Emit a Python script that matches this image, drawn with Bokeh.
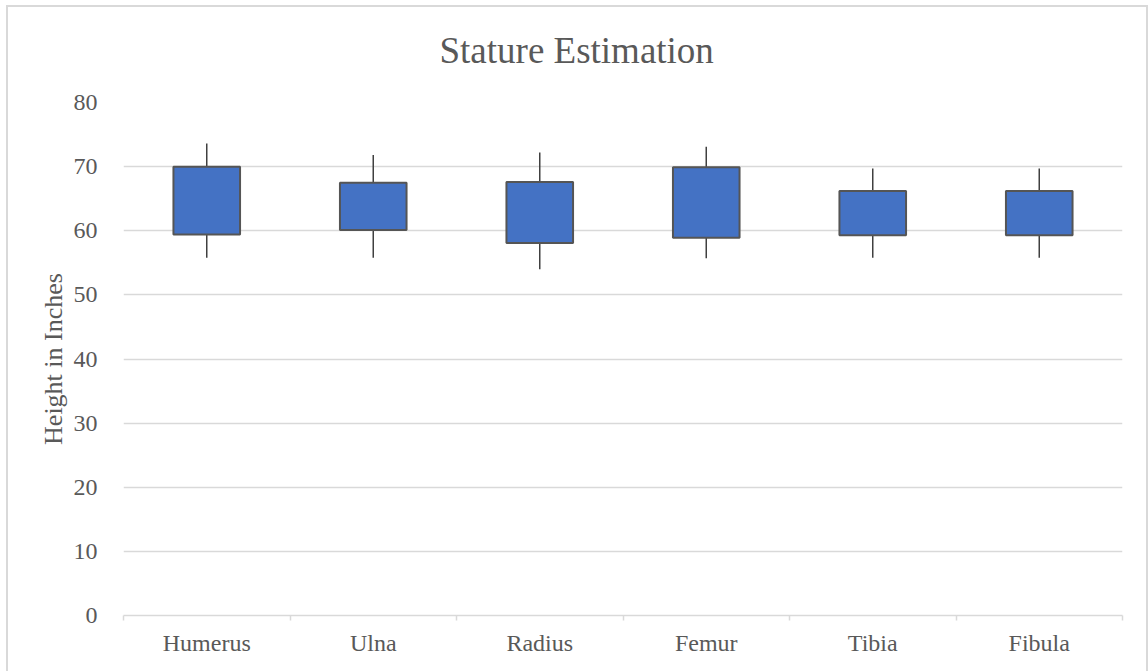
import numpy as np
from bokeh.plotting import figure
from bokeh.layouts import column
from bokeh.models import Range1d, FixedTicker, ColumnDataSource
from bokeh.embed import file_html
from bokeh.resources import INLINE

# ---- data ----
categories = ["Humerus", "Ulna", "Radius", "Femur", "Tibia", "Fibula"]
high = [73.6, 71.8, 72.2, 73.1, 69.7, 69.7]
low = [55.8, 55.8, 54.0, 55.7, 55.8, 55.8]
box_top = [70.0, 67.5, 67.6, 69.9, 66.2, 66.2]
box_bottom = [59.4, 60.1, 58.1, 58.9, 59.3, 59.3]
y_ticks = [0, 10, 20, 30, 40, 50, 60, 70, 80]
title_text = "Stature Estimation"
y_label = "Height in Inches"

x_pos = [i + 0.5 for i in range(len(categories))]
src = ColumnDataSource(dict(x=x_pos, cat=categories, high=high, low=low,
                            top=box_top, bottom=box_bottom))

FONT = "Liberation Serif"
TXT = "#595959"
GRID = "#d9d9d9"

p = figure(width=1138, height=672, output_backend="svg", toolbar_location=None,
           x_range=Range1d(0, len(categories)), y_range=Range1d(y_ticks[0], y_ticks[-1]),
           min_border_left=115, min_border_right=24, min_border_top=103, min_border_bottom=56)
p.styles = {"margin-top": "-8px"}
p.outline_line_color = None
p.background_fill_color = "white"
p.border_fill_color = "white"

# title
p.title.text = title_text
p.title.align = "left"
p.title.offset = 316
p.title.vertical_align = "top"
p.title.standoff = 60
p.title.text_font = FONT
p.title.text_font_size = "37px"
p.title.text_font_style = "normal"
p.title.text_color = TXT

# grids
p.xgrid.visible = False
p.ygrid.ticker = FixedTicker(ticks=y_ticks)
p.ygrid.grid_line_color = GRID
p.ygrid.grid_line_width = 1.5

# y axis
p.yaxis.ticker = FixedTicker(ticks=y_ticks)
p.yaxis.axis_line_color = None
p.yaxis.major_tick_line_color = None
p.yaxis.minor_tick_line_color = None
p.yaxis.major_label_standoff = 20
p.yaxis.major_label_text_font = FONT
p.yaxis.major_label_text_font_size = "24px"
p.yaxis.major_label_text_color = TXT
p.yaxis.axis_label = y_label
p.yaxis.axis_label_text_font = FONT
p.yaxis.axis_label_text_font_size = "26px"
p.yaxis.axis_label_text_font_style = "normal"
p.yaxis.axis_label_text_color = TXT
p.yaxis.axis_label_standoff = 3

# x axis
p.xaxis.ticker = FixedTicker(ticks=x_pos, minor_ticks=list(range(len(categories) + 1)))
p.xaxis.major_label_overrides = {xv: c for xv, c in zip(x_pos, categories)}
p.xaxis.axis_line_color = GRID
p.xaxis.axis_line_width = 1.5
p.xaxis.major_tick_line_color = None
p.xaxis.major_tick_out = 0
p.xaxis.major_tick_in = 0
p.xaxis.minor_tick_line_color = GRID
p.xaxis.minor_tick_line_width = 1.5
p.xaxis.minor_tick_in = 0
p.xaxis.minor_tick_out = 5
p.xaxis.major_label_standoff = 9
p.xaxis.major_label_text_font = FONT
p.xaxis.major_label_text_font_size = "24px"
p.xaxis.major_label_text_color = TXT

# marks
p.segment(x0="x", y0="low", x1="x", y1="high", source=src,
          line_color="#404040", line_width=1.5)
p.vbar(x="x", width=0.4, top="top", bottom="bottom", source=src,
       fill_color="#4472c4", line_color="#555555", line_width=2)

layout = column(p, styles={"position": "absolute", "left": "6px", "top": "5px",
                           "overflow": "hidden",
                           "border-left": "2px solid #d9d9d9",
                           "border-top": "2px solid #d9d9d9",
                           "border-right": "2px solid #d9d9d9"})

open("out.html", "w").write(file_html(layout, INLINE))
